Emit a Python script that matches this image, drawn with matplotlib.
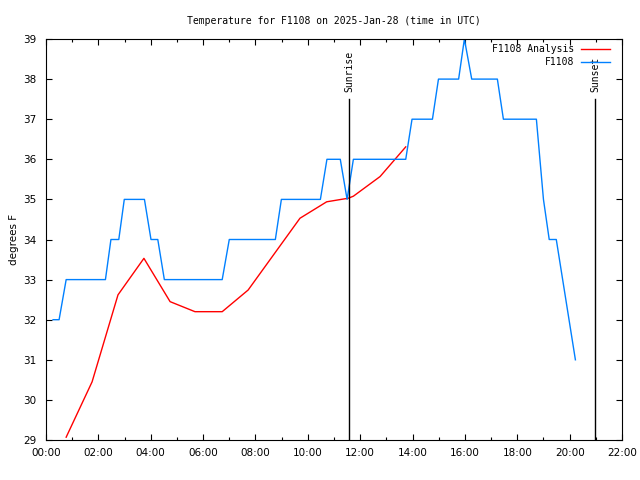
import numpy as np
import matplotlib
matplotlib.use("Agg")
import matplotlib.pyplot as plt
from matplotlib.ticker import MultipleLocator, FuncFormatter

# horas UTC y temperaturas
t_obs = [0.27, 0.5, 0.77, 2.27, 2.48, 2.78, 2.99, 3.76, 4.01, 4.27, 4.52, 6.73, 7.0,
         8.76, 8.99, 10.48, 10.73, 11.24, 11.5, 11.74, 13.74, 13.98, 14.76, 14.99,
         15.76, 15.98, 16.26, 17.24, 17.47, 18.73, 19.0, 19.22, 19.49, 20.22]
v_obs = [32, 32, 33, 33, 34, 34, 35, 35, 34, 34, 33, 33, 34,
         34, 35, 35, 36, 36, 35, 36, 36, 37, 37, 38,
         38, 39, 38, 38, 37, 37, 35, 34, 34, 31]

t_ana = [0.77, 1.76, 2.75, 3.74, 4.74, 5.69, 6.73, 7.72, 9.7, 10.72, 11.55, 11.74, 12.76, 13.74]
v_ana = [29.07, 30.45, 32.62, 33.53, 32.45, 32.2, 32.2, 32.74, 34.53, 34.94, 35.03, 35.08, 35.57, 36.31]

sunrise = 11.57
sunset = 20.97

mono = "DejaVu Sans Mono"

fig = plt.figure(figsize=(6.4, 4.8), dpi=100)
ax = fig.add_axes([46/640, 40/480, 576/640, 401/480])

ax.plot(t_ana, v_ana, color="#ff0000", lw=1.0, label="F1108 Analysis")
ax.plot(t_obs, v_obs, color="#0080ff", lw=1.0, label="F1108")

for h, nombre in [(sunrise, "Sunrise"), (sunset, "Sunset")]:
    ax.plot([h, h], [29, 37.5], color="black", lw=1.0)
    ax.text(h, 37.68, nombre, rotation=90, ha="center", va="bottom",
            fontsize=7, family=mono)

ax.set_xlim(0, 22)
ax.set_ylim(29, 39)
ax.xaxis.set_major_locator(MultipleLocator(2))
ax.xaxis.set_minor_locator(MultipleLocator(1))
ax.xaxis.set_major_formatter(FuncFormatter(lambda x, p: "%02d:00" % int(round(x))))
ax.yaxis.set_major_locator(MultipleLocator(1))
ax.tick_params(which="both", direction="in", top=True, right=True, labelsize=7.5, width=0.8)
ax.tick_params(which="major", length=4)
ax.tick_params(axis="x", which="major", pad=6)
ax.tick_params(axis="y", which="major", pad=7)
ax.tick_params(which="minor", length=2.5)
for s in ax.spines.values():
    s.set_linewidth(0.8)

ax.set_title("Temperature for F1108 on 2025-Jan-28 (time in UTC)", fontsize=7,
             family=mono, pad=11)
ax.set_ylabel("degrees F", fontsize=7.5, labelpad=3)

ax.legend(loc="upper right", bbox_to_anchor=(0.979, 0.9875), frameon=False,
          markerfirst=False, prop={"family": mono, "size": 7}, handlelength=3.0,
          borderpad=0, borderaxespad=0, labelspacing=0.3, handletextpad=0.7)

fig.savefig("out.png", dpi=100)
